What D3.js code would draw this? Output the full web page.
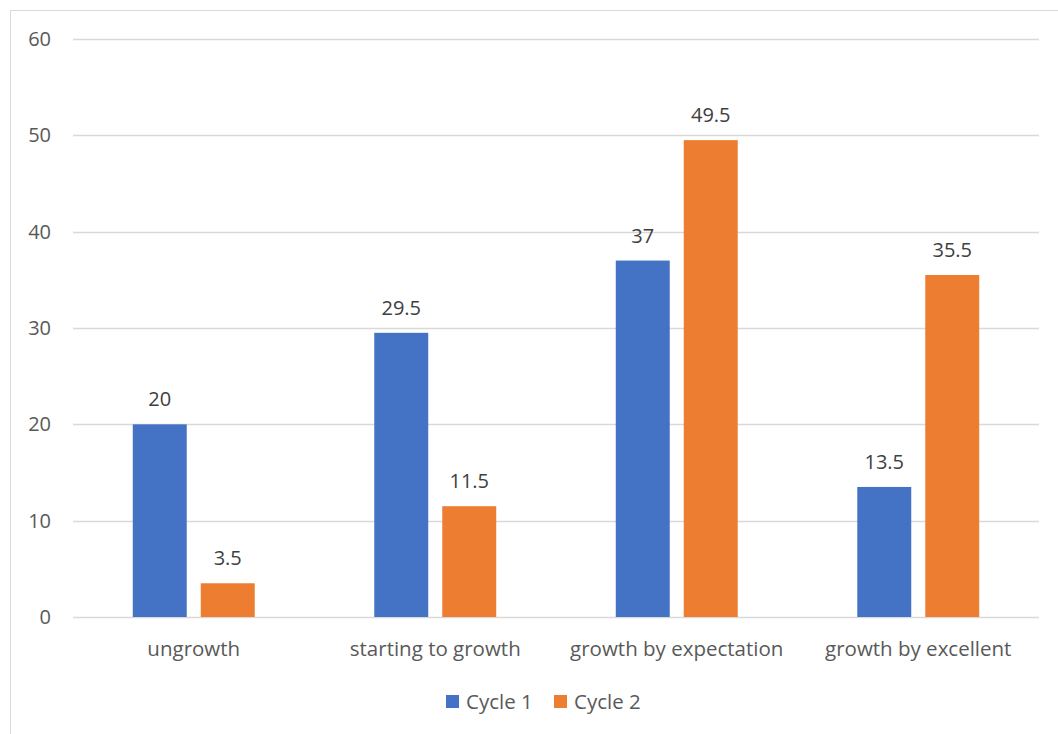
<!DOCTYPE html>
<meta charset="utf-8">
<style>
body { margin: 0; background: #fff; }
text { font-family: "Open Sans", "Noto Sans", sans-serif; }
</style>
<svg width="1058" height="734" id="svg"></svg>
<script src="https://d3js.org/d3.v7.min.js"></script>
<script>

var categories = ["ungrowth", "starting to growth", "growth by expectation", "growth by excellent"];
var seriesNames = ["Cycle 1", "Cycle 2"];
var cycle1 = [20, 29.5, 37, 13.5];
var cycle2 = [3.5, 11.5, 49.5, 35.5];
var yTicks = [0, 10, 20, 30, 40, 50, 60];
var colors = ["#4472c4", "#ed7d31"];

var svg = d3.select("svg");

// chart frame
svg.append("rect")
    .attr("x", 10.5).attr("y", 10.5)
    .attr("width", 1060).attr("height", 740)
    .attr("fill", "none")
    .attr("stroke", "#d9d9d9");

var plotL = 73, plotR = 1039, plotT = 39, plotB = 617;

var y = d3.scaleLinear().domain([0, 60]).range([plotB, plotT]);
var x0 = d3.scaleBand().domain(categories).range([plotL, plotR]).paddingInner(0.495).paddingOuter(0.2475);
var x1 = d3.scaleBand().domain(seriesNames).range([0, x0.bandwidth()]).paddingInner(0.206);

// gridlines
svg.append("g").selectAll("line")
    .data(yTicks)
    .enter().append("line")
      .attr("x1", plotL).attr("x2", plotR)
      .attr("y1", function(d) { return Math.round(y(d)) + 0.5; })
      .attr("y2", function(d) { return Math.round(y(d)) + 0.5; })
      .attr("stroke", "#d9d9d9")
      .attr("stroke-width", 1.3);

// y labels
svg.append("g").selectAll("text")
    .data(yTicks)
    .enter().append("text")
      .attr("x", 51)
      .attr("y", function(d) { return y(d); })
      .attr("dy", "0.35em")
      .attr("text-anchor", "end")
      .attr("font-size", 20)
      .attr("fill", "#595959")
      .text(function(d) { return d; });

var rows = categories.map(function(c, i) {
  return { cat: c, values: [cycle1[i], cycle2[i]] };
});

var groups = svg.append("g").selectAll("g")
    .data(rows)
    .enter().append("g")
      .attr("transform", function(d) { return "translate(" + x0(d.cat) + ",0)"; });

groups.selectAll("rect")
    .data(function(d) { return d.values.map(function(v, i) { return { s: seriesNames[i], v: v, i: i }; }); })
    .enter().append("rect")
      .attr("x", function(d) { return x1(d.s); })
      .attr("y", function(d) { return y(d.v); })
      .attr("width", x1.bandwidth())
      .attr("height", function(d) { return y(0) - y(d.v); })
      .attr("fill", function(d) { return colors[d.i]; });

groups.selectAll("text.val")
    .data(function(d) { return d.values.map(function(v, i) { return { s: seriesNames[i], v: v }; }); })
    .enter().append("text")
      .attr("class", "val")
      .attr("x", function(d) { return x1(d.s) + x1.bandwidth() / 2; })
      .attr("y", function(d) { return y(d.v) - 18; })
      .attr("text-anchor", "middle")
      .attr("font-size", 20)
      .attr("fill", "#404040")
      .text(function(d) { return d.v; });

// category labels
svg.append("g").selectAll("text")
    .data(categories)
    .enter().append("text")
      .attr("x", function(d) { return x0(d) + x0.bandwidth() / 2; })
      .attr("y", 656)
      .attr("text-anchor", "middle")
      .attr("font-size", 20.5)
      .attr("fill", "#595959")
      .text(function(d) { return d; });

// legend
var legend = svg.append("g").selectAll("g")
    .data(seriesNames)
    .enter().append("g")
      .attr("transform", function(d, i) { return "translate(" + (446 + i * 108) + ",695)"; });

legend.append("rect")
    .attr("width", 13).attr("height", 13)
    .attr("fill", function(d, i) { return colors[i]; });

legend.append("text")
    .attr("x", 20).attr("y", 6.5)
    .attr("dy", "0.35em")
    .attr("font-size", 20.5)
    .attr("fill", "#595959")
    .text(function(d) { return d; });

</script>
